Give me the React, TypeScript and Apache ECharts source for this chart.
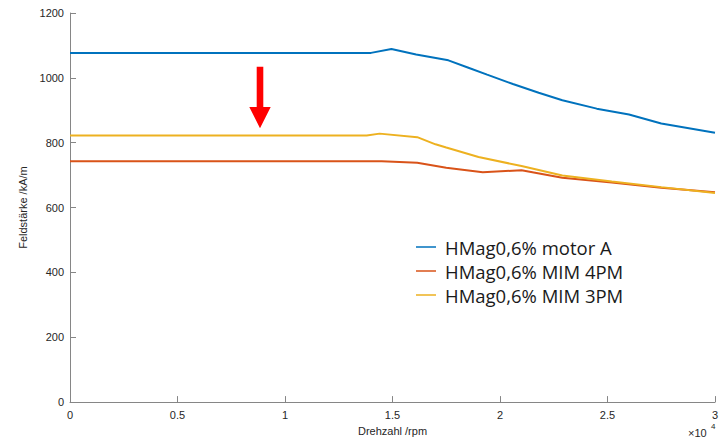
import React, { useEffect, useRef } from "react";
import * as echarts from "echarts";

const xTicks = [0, 5000, 10000, 15000, 20000, 25000, 30000];
const yTicks = [0, 200, 400, 600, 800, 1000, 1200];

const seriesNames = ["HMag0,6% motor A", "HMag0,6% MIM 4PM", "HMag0,6% MIM 3PM"];
const seriesColors = ["#0072BD", "#D95319", "#EDB120"];

const motorA: [number, number][] = [
  [0, 1077], [14000, 1077], [14950, 1089], [16100, 1072], [17600, 1054],
  [18500, 1032], [19400, 1010], [20600, 981], [21800, 954], [22900, 931],
  [24500, 905], [26000, 887], [27500, 859], [30000, 831],
];
const mim4pm: [number, number][] = [
  [0, 743], [14500, 743], [16150, 738], [17500, 723], [19200, 709],
  [21000, 715], [22900, 692], [25200, 677], [27500, 661], [30000, 647],
];
const mim3pm: [number, number][] = [
  [0, 822], [13800, 822], [14400, 828], [16150, 817], [17000, 795],
  [17500, 785], [19000, 756], [21000, 728], [22900, 699], [25200, 680],
  [27500, 663], [30000, 645],
];

export default function App() {
  const ref = useRef<HTMLDivElement>(null);
  useEffect(() => {
    if (!ref.current) return;
    const chart = echarts.init(ref.current, undefined, { renderer: "svg" });
    const axisColor = "#868686";
    const labelColor = "#262626";
    const font = "Liberation Sans";
    chart.setOption({
      animation: false,
      backgroundColor: "#ffffff",
      grid: { left: 70, top: 13, width: 645, height: 390, containLabel: false },
      xAxis: {
        type: "value",
        min: xTicks[0],
        max: xTicks[xTicks.length - 1],
        interval: 5000,
        name: "Drehzahl /rpm",
        nameLocation: "middle",
        nameGap: 21,
        nameTextStyle: { fontSize: 11, color: labelColor, fontFamily: font },
        axisLine: { show: true, lineStyle: { color: axisColor, width: 1 } },
        axisTick: { show: true, inside: true, length: 6, lineStyle: { color: axisColor } },
        axisLabel: {
          fontSize: 11,
          color: labelColor,
          fontFamily: font,
          margin: 7,
          formatter: (v: number) => String(v / 10000),
        },
        splitLine: { show: false },
      },
      yAxis: {
        type: "value",
        min: yTicks[0],
        max: yTicks[yTicks.length - 1],
        interval: 200,
        name: "Feldstärke /kA/m",
        nameLocation: "middle",
        nameGap: 36,
        nameTextStyle: { fontSize: 11, color: labelColor, fontFamily: font },
        axisLine: { show: true, lineStyle: { color: axisColor, width: 1 } },
        axisTick: { show: true, inside: true, length: 6, lineStyle: { color: axisColor } },
        axisLabel: {
          fontSize: 11,
          color: labelColor,
          fontFamily: font,
          margin: 6,
          formatter: (v: number) => String(v),
        },
        splitLine: { show: false },
      },
      legend: {
        orient: "vertical",
        left: 411,
        top: 232,
        itemWidth: 20,
        itemHeight: 1.5,
        itemGap: 4,
        icon: "rect",
        textStyle: {
          fontSize: 18.5,
          lineHeight: 20,
          color: "#1a1a1a",
          fontFamily: "Open Sans",
          padding: [0, 0, 0, 4],
        },
        data: seriesNames,
      },
      series: [
        { name: seriesNames[0], type: "line", data: motorA, color: seriesColors[0], showSymbol: false, lineStyle: { width: 2 } },
        { name: seriesNames[1], type: "line", data: mim4pm, color: seriesColors[1], showSymbol: false, lineStyle: { width: 2 } },
        { name: seriesNames[2], type: "line", data: mim3pm, color: seriesColors[2], showSymbol: false, lineStyle: { width: 2 } },
      ],
      graphic: [
        {
          type: "polygon",
          shape: {
            points: [
              [256.7, 66.7], [263.3, 66.7], [263.3, 107], [270.7, 107],
              [260, 128.3], [249.3, 107], [256.7, 107],
            ],
          },
          style: { fill: "#FF0000" },
        },
        {
          type: "text",
          left: 688,
          top: 427,
          style: { text: "×10", fontSize: 11, fill: labelColor, fontFamily: font },
        },
        {
          type: "text",
          left: 711,
          top: 422,
          style: { text: "4", fontSize: 8, fill: labelColor, fontFamily: font },
        },
      ],
    });
    return () => chart.dispose();
  }, []);
  return (
    <div
      ref={ref}
      style={{ position: "fixed", left: 0, top: 0, width: 727, height: 441 }}
    />
  );
}
